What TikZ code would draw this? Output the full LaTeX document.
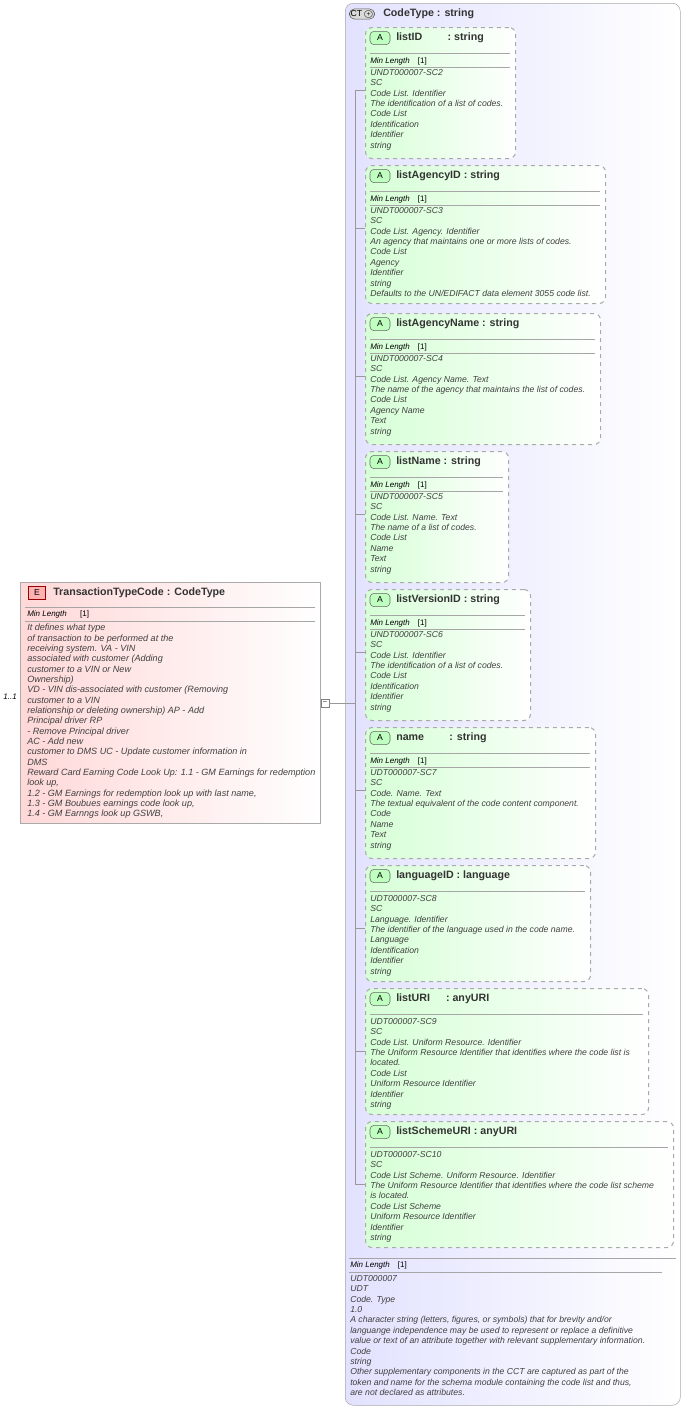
\documentclass[tikz,border=0pt]{standalone}
\usepackage{fontspec}
\setmainfont{Liberation Sans}
\usetikzlibrary{positioning}
\definecolor{ctfill}{RGB}{226,226,255}
\definecolor{attrfill}{RGB}{214,255,214}
\definecolor{elfill}{RGB}{255,216,216}
\definecolor{frame}{RGB}{170,170,170}
\tikzset{%
  % boxes
   ctbox/.style = {rectangle, rounded corners=6pt, draw=frame, left color=ctfill,
                   right color=white, anchor=north west, inner sep=0pt},
   attrbox/.style = {rectangle, rounded corners=5pt, draw=frame, dashed, thick,
                   left color=attrfill, right color=white, anchor=north west, inner sep=0pt},
   elbox/.style = {rectangle, draw=frame, thick, left color=elfill, right color=white,
                   anchor=north west, inner sep=0pt},
   badge/.style = {rectangle, rounded corners=3pt, draw=gray!80!black, fill=green!25,
                   font=\fontsize{6.5}{7}\selectfont, minimum width=15pt, minimum height=10pt, inner sep=1pt},
   ebadge/.style = {rectangle, draw=red!60!black, fill=red!30,
                   font=\fontsize{6.5}{7}\selectfont, minimum width=13pt, minimum height=10pt, inner sep=1pt},
  % texts
   title/.style = {anchor=west, inner sep=0pt, font=\fontsize{8}{9}\selectfont\bfseries, text=black!80},
   minlen/.style = {anchor=west, inner sep=0pt, font=\fontsize{6}{7}\selectfont\itshape},
   desc/.style = {anchor=north west, inner sep=0pt, align=left,
                  font=\fontsize{6.5}{7.8}\selectfont\itshape, text=black!75},
   sepline/.style = {draw=gray!70},
   conn/.style = {draw=gray!80, thin},
}
% attribute box: id, right, top, bottom, title, has min length, description
\newcommand\attrib[7]{%
  \node[attrbox, minimum width={(#2-365)*0.75pt}, minimum height={(#4-#3)*0.75pt}] (#1) at (365,#3) {};
  \node[badge] (#1-a) at (380,{#3+11}) {A};
  \node[title] (#1-n) at (396,{#3+11}) {#5};
  \draw[sepline] (370,{#3+26}) -- ({#2-5},{#3+26});
  \ifnum#6=1
    \node[minlen] (#1-m) at (370,{#3+34}) {Min Length\hspace{6pt}\upshape[1]};
    \draw[sepline] (370,{#3+40}) -- ({#2-5},{#3+40});
    \node[desc] (#1-d) at (370,{#3+42}) {#7};
  \else
    \node[desc] (#1-d) at (370,{#3+30}) {#7};
  \fi
  \coordinate (#1-t) at (365,{#3+63});
}
\begin{document}
\begin{tikzpicture}[x=0.75pt, y=-0.75pt]
  \useasboundingbox (0,0) rectangle (684,1407);

  % complex type frame
  \node[ctbox, minimum width={335*0.75pt}, minimum height={1402*0.75pt}] (ct) at (345,3) {};
  \node[rectangle, rounded corners=4pt, draw=gray!70!black, fill=gray!30,
        font=\fontsize{6.5}{7}\selectfont, inner sep=1pt] (ct-b) at (362,14) {CT\,\textcircled{\tiny+}};
  \node[title] (ct-n) at (383,14) {CodeType : string};

  % attributes
  \attrib{a1}{515}{27}{158}{listID\hspace{19pt}: string}{1}{UNDT000007-SC2\\SC\\Code List. Identifier\\The identification of a list of codes.\\Code List\\Identification\\Identifier\\string}
  \attrib{a2}{605}{165}{303}{listAgencyID : string}{1}{UNDT000007-SC3\\SC\\Code List. Agency. Identifier\\An agency that maintains one or more lists of codes.\\Code List\\Agency\\Identifier\\string\\Defaults to the UN/EDIFACT data element 3055 code list.}
  \attrib{a3}{600}{313}{444}{listAgencyName : string}{1}{UNDT000007-SC4\\SC\\Code List. Agency Name. Text\\The name of the agency that maintains the list of codes.\\Code List\\Agency Name\\Text\\string}
  \attrib{a4}{508}{451}{582}{listName : string}{1}{UNDT000007-SC5\\SC\\Code List. Name. Text\\The name of a list of codes.\\Code List\\Name\\Text\\string}
  \attrib{a5}{530}{589}{720}{listVersionID : string}{1}{UNDT000007-SC6\\SC\\Code List. Identifier\\The identification of a list of codes.\\Code List\\Identification\\Identifier\\string}
  \attrib{a6}{595}{727}{858}{name\hspace{19pt}: string}{1}{UDT000007-SC7\\SC\\Code. Name. Text\\The textual equivalent of the code content component.\\Code\\Name\\Text\\string}
  \attrib{a7}{590}{865}{981}{languageID : language}{0}{UDT000007-SC8\\SC\\Language. Identifier\\The identifier of the language used in the code name.\\Language\\Identification\\Identifier\\string}
  \attrib{a8}{648}{988}{1114}{listURI\hspace{12pt}: anyURI}{0}{UDT000007-SC9\\SC\\Code List. Uniform Resource. Identifier\\The Uniform Resource Identifier that identifies where the code list is\\located.\\Code List\\Uniform Resource Identifier\\Identifier\\string}
  \attrib{a9}{673}{1121}{1247}{listSchemeURI : anyURI}{0}{UDT000007-SC10\\SC\\Code List Scheme. Uniform Resource. Identifier\\The Uniform Resource Identifier that identifies where the code list scheme\\is located.\\Code List Scheme\\Uniform Resource Identifier\\Identifier\\string}

  % complex type facets and documentation
  \draw[sepline] (349,1258) -- (676,1258);
  \node[minlen] (ct-m) at (350,1265) {Min Length\hspace{6pt}\upshape[1]};
  \draw[sepline] (349,1272) -- (662,1272);
  \node[desc] (ct-d) at (350,1275) {UDT000007\\UDT\\Code. Type\\1.0\\A character string (letters, figures, or symbols) that for brevity and/or\\languange independence may be used to represent or replace a definitive\\value or text of an attribute together with relevant supplementary information.\\Code\\string\\Other supplementary components in the CCT are captured as part of the\\token and name for the schema module containing the code list and thus,\\are not declared as attributes.};

  % element
  \node[elbox, minimum width={300*0.75pt}, minimum height={241*0.75pt}] (el) at (20,582) {};
  \node[ebadge] (el-b) at (37,593) {E};
  \node[title] (el-n) at (53,593) {TransactionTypeCode : CodeType};
  \draw[sepline] (25,607) -- (315,607);
  \node[minlen] (el-m) at (27,614) {Min Length\hspace{10pt}\upshape[1]};
  \draw[sepline] (25,621) -- (315,621);
  \node[desc, font=\fontsize{6.8}{7.75}\selectfont\itshape] (el-d) at (27,624) {It defines what type\\of transaction to be performed at the\\receiving system. VA - VIN\\associated with customer (Adding\\customer to a VIN or New\\Ownership)\\VD - VIN dis-associated with customer (Removing\\customer to a VIN\\relationship or deleting ownership) AP - Add\\Principal driver RP\\- Remove Principal driver\\AC - Add new\\customer to DMS UC - Update customer information in\\DMS\\Reward Card Earning Code Look Up: 1.1 - GM Earnings for redemption\\look up,\\1.2 - GM Earnings for redemption look up with last name,\\1.3 - GM Boubues earnings code look up,\\1.4 - GM Earnngs look up GSWB,};
  \node[minlen, anchor=east] (el-c) at (17,697) {1..1};

  % connectors
  \node[rectangle, draw=gray, fill=white, minimum size=6pt, inner sep=0pt,
        font=\fontsize{5}{5}\selectfont] (minus) at (325,703) {--};
  \coordinate (bus) at (355,703);
  \coordinate (bus-top) at (355,90);
  \coordinate (bus-bot) at (355,1184);
  \draw[conn] (minus) -- (bus);
  \draw[conn] (bus-top) -- (bus-bot);
  \foreach \a in {a1,a2,a3,a4,a5,a6,a7,a8,a9}
    \draw[conn] (\a-t -| bus) -- (\a-t);
\end{tikzpicture}
\end{document}
